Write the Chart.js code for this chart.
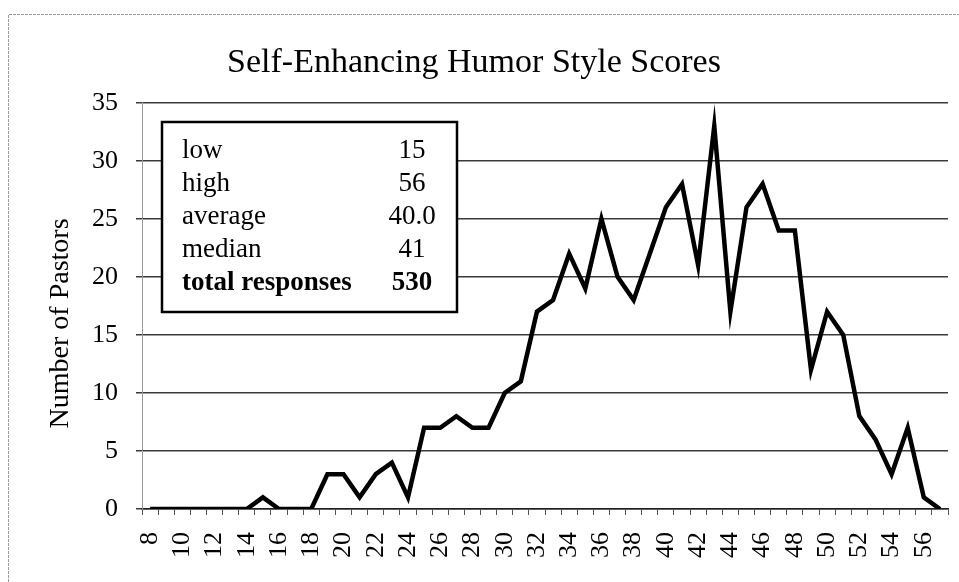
<!DOCTYPE html>
<html>
<head>
<meta charset="utf-8">
<script src="https://cdn.jsdelivr.net/npm/chart.js@4.4.1/dist/chart.umd.min.js"></script>
<style>
html,body{margin:0;padding:0;background:#fff;}
#wrap{width:959px;height:582px;position:relative;}
</style>
</head>
<body>
<div id="wrap"><canvas id="c" width="959" height="582"></canvas></div>
<script>
const scores = [8,9,10,11,12,13,14,15,16,17,18,19,20,21,22,23,24,25,26,27,28,29,30,31,32,33,34,35,36,37,38,39,40,41,42,43,44,45,46,47,48,49,50,51,52,53,54,55,56,57];
const pastors = [0,0,0,0,0,0,0,1,0,0,0,3,3,1,3,4,1,7,7,8,7,7,10,11,17,18,22,19,25,20,18,22,26,28,21,33,17,26,28,24,24,12,17,15,8,6,3,7,1,0];
const yTicks = [0,5,10,15,20,25,30,35];
const statLabels = ['low','high','average','median','total responses'];
const statValues = ['15','56','40.0','41','530'];
const titleText = 'Self-Enhancing Humor Style Scores';
const yTitle = 'Number of Pastors     ';

const SERIF = '"Liberation Serif","Times New Roman",serif';

const framePlugin = {
  id: 'frame',
  beforeDraw(chart) {
    const ctx = chart.ctx;
    ctx.save();
    ctx.strokeStyle = '#9a9a9a';
    ctx.lineWidth = 1;
    ctx.setLineDash([3,1]);
    ctx.beginPath();
    ctx.moveTo(8.5, 582); ctx.lineTo(8.5, 14.5); ctx.lineTo(959, 14.5);
    ctx.stroke();
    ctx.restore();
  }
};

const statsBox = {
  id: 'statsBox',
  afterDatasetsDraw(chart) {
    const ctx = chart.ctx;
    const x = 162, y = 122, w = 295, h = 190;
    ctx.save();
    ctx.fillStyle = '#fff';
    ctx.fillRect(x, y, w, h);
    ctx.strokeStyle = '#000';
    ctx.lineWidth = 2.5;
    ctx.strokeRect(x, y, w, h);
    ctx.fillStyle = '#000';
    ctx.textBaseline = 'alphabetic';
    const base = 158, step = 33;
    statLabels.forEach((lab, i) => {
      const bold = i === statLabels.length - 1;
      ctx.font = (bold ? 'bold ' : '') + '27px ' + SERIF;
      ctx.textAlign = 'left';
      ctx.fillText(lab, 182, base + i * step);
      ctx.textAlign = 'center';
      ctx.fillText(statValues[i], 412, base + i * step);
    });
    ctx.restore();
  }
};

new Chart(document.getElementById('c'), {
  type: 'line',
  data: {
    labels: scores,
    datasets: [{
      data: pastors,
      borderColor: '#000',
      borderWidth: 4.5,
      pointRadius: 0,
      tension: 0,
      fill: false
    }]
  },
  options: {
    responsive: false,
    animation: false,
    devicePixelRatio: 1,
    layout: { padding: { left: 0, right: 11, top: 0, bottom: 0 } },
    plugins: {
      legend: { display: false },
      tooltip: { enabled: false },
      title: {
        display: true,
        text: titleText,
        color: '#000',
        font: { family: SERIF, size: 34, weight: 'normal', lineHeight: 1.2 },
        padding: { top: 43, bottom: 19 }
      }
    },
    scales: {
      x: {
        type: 'category',
        offset: true,
        grid: { display: true, drawOnChartArea: false, drawTicks: true, tickLength: 6, offset: true, color: '#555', lineWidth: 1 },
        border: { display: true, color: '#222', width: 1.5 },
        ticks: {
          autoSkip: false,
          minRotation: 90, maxRotation: 90,
          color: '#000',
          padding: 17,
          font: { family: SERIF, size: 26 },
          callback: function(v, i) { const s = scores[i]; return s % 2 === 0 ? String(s) : ''; }
        },
        afterFit(scale) { scale.height = 73; scale.paddingRight = 6; scale.paddingLeft = 0; }
      },
      y: {
        min: 0, max: 35,
        afterBuildTicks(scale) { scale.ticks = yTicks.map(v => ({ value: v })); },
        grid: { color: '#3a3a3a', lineWidth: 1.5, tickLength: 6, drawTicks: true },
        border: { display: true, color: '#999', width: 1 },
        ticks: {
          color: '#000',
          padding: 18,
          font: { family: SERIF, size: 26 }
        },
        title: {
          display: true,
          text: yTitle,
          color: '#000',
          font: { family: SERIF, size: 28, lineHeight: 1.2 },
          padding: { top: 44, bottom: 0 }
        },
        afterFit(scale) { scale.width = 142; }
      }
    }
  },
  plugins: [framePlugin, statsBox]
});
</script>
</body>
</html>
